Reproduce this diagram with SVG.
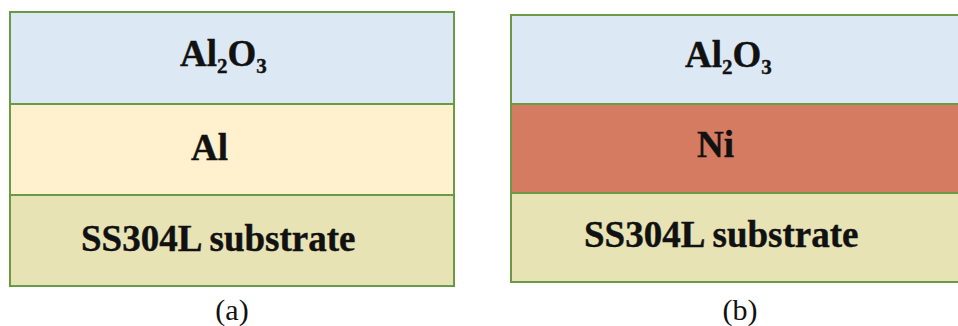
<svg xmlns="http://www.w3.org/2000/svg" width="958" height="326" viewBox="0 0 958 326">
<style>
.layer{stroke:#6B9A47;stroke-width:2}
.oxide{fill:#DCE9F5}
.al{fill:#FFF1CD}
.ni{fill:#D47B61}
.sub{fill:#E7E3B4}
.lbl{font-family:"Liberation Serif","Times New Roman",serif;font-weight:bold;font-size:37px;fill:#111;stroke:#111;stroke-width:0.4}
.cap{font-family:"Liberation Serif","Times New Roman",serif;font-size:30px;fill:#111;text-anchor:middle}
</style>
<rect width="958" height="326" fill="#fff"/>
<g id="panel-a">
<g id="a-oxide"><rect class="layer oxide" x="10" y="12" width="444" height="92"/>
<text class="lbl" x="180" y="66">Al<tspan font-size="21" dy="7">2</tspan><tspan dy="-7">O</tspan><tspan font-size="21" dy="7">3</tspan></text></g>
<g id="a-al"><rect class="layer al" x="10" y="104" width="444" height="91"/>
<text class="lbl" x="191" y="159.5">Al</text></g>
<g id="a-sub"><rect class="layer sub" x="10" y="195" width="444" height="91"/>
<text class="lbl" x="81" y="250.5">SS304L substrate</text></g>
<text class="cap" x="232" y="320">(a)</text>
</g>
<g id="panel-b">
<g id="b-oxide"><rect class="layer oxide" x="511" y="15" width="460" height="89"/>
<text class="lbl" x="685" y="67">Al<tspan font-size="21" dy="7">2</tspan><tspan dy="-7">O</tspan><tspan font-size="21" dy="7">3</tspan></text></g>
<g id="b-ni"><rect class="layer ni" x="511" y="104" width="460" height="89"/>
<text class="lbl" x="697" y="157">Ni</text></g>
<g id="b-sub"><rect class="layer sub" x="511" y="193" width="460" height="89"/>
<text class="lbl" x="584" y="247">SS304L substrate</text></g>
<text class="cap" x="740" y="320">(b)</text>
</g>
<g id="connectors"/>
</svg>
